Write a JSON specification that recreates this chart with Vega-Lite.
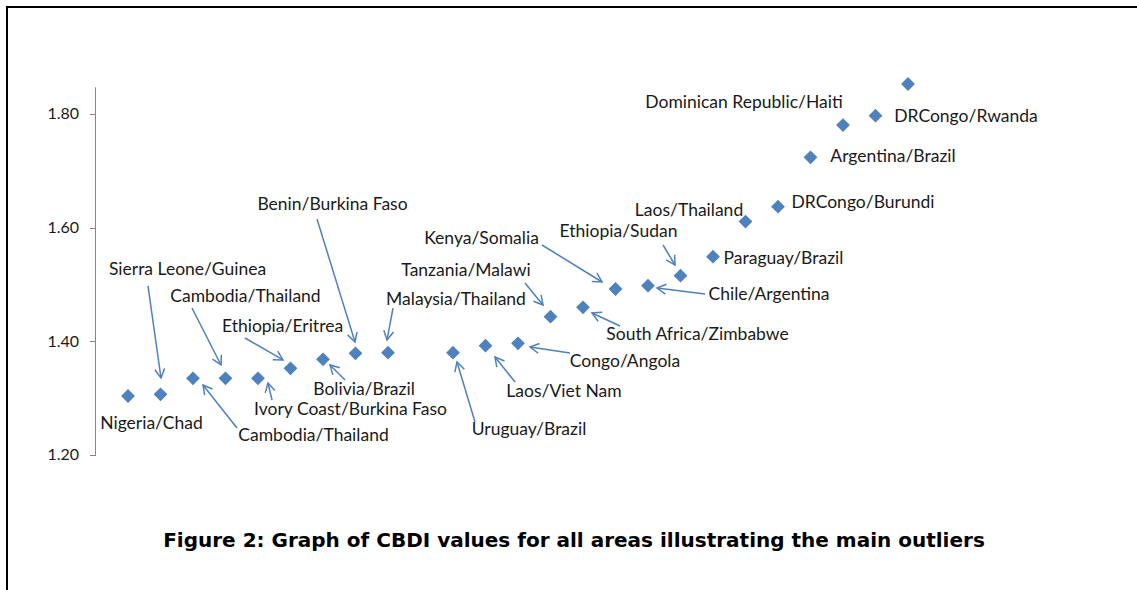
{
  "$schema": "https://vega.github.io/schema/vega-lite/v6.json",
  "width": 1134,
  "height": 586,
  "autosize": {"type": "none"},
  "padding": {"left": 7, "top": 7, "right": -4, "bottom": -3},
  "background": "white",
  "config": {"view": {"stroke": "#000000", "strokeWidth": 2}, "font": "Lato"},
  "title": {
    "text": "Figure 2: Graph of CBDI values for all areas illustrating the main outliers",
    "orient": "bottom",
    "anchor": "middle",
    "frame": "group",
    "offset": -62,
    "font": "DejaVu Sans",
    "fontSize": 20,
    "fontWeight": "bold",
    "color": "#000000"
  },
  "datasets": {
    "axisline": [{"x0": 0, "ylo": 1.2, "yhi": 1.847}],
    "points": [
      {"idx": 1, "cbdi": 1.3038},
      {"idx": 2, "cbdi": 1.3068},
      {"idx": 3, "cbdi": 1.3350},
      {"idx": 4, "cbdi": 1.3350},
      {"idx": 5, "cbdi": 1.3350},
      {"idx": 6, "cbdi": 1.3525},
      {"idx": 7, "cbdi": 1.3684},
      {"idx": 8, "cbdi": 1.3789},
      {"idx": 9, "cbdi": 1.3800},
      {"idx": 11, "cbdi": 1.3800},
      {"idx": 12, "cbdi": 1.3923},
      {"idx": 13, "cbdi": 1.3965},
      {"idx": 14, "cbdi": 1.4433},
      {"idx": 15, "cbdi": 1.4599},
      {"idx": 16, "cbdi": 1.4921},
      {"idx": 17, "cbdi": 1.4979},
      {"idx": 18, "cbdi": 1.5155},
      {"idx": 19, "cbdi": 1.5489},
      {"idx": 20, "cbdi": 1.6108},
      {"idx": 21, "cbdi": 1.6369},
      {"idx": 22, "cbdi": 1.7238},
      {"idx": 23, "cbdi": 1.7806},
      {"idx": 24, "cbdi": 1.7970},
      {"idx": 25, "cbdi": 1.8528}
    ],
    "labels": [
      {"label": "Nigeria/Chad", "lx": 1.723, "ly": 1.2545},
      {"label": "Sierra Leone/Guinea", "lx": 2.831, "ly": 1.5255},
      {"label": "Cambodia/Thailand", "lx": 4.615, "ly": 1.4780},
      {"label": "Ethiopia/Eritrea", "lx": 5.754, "ly": 1.4252},
      {"label": "Benin/Burkina Faso", "lx": 7.292, "ly": 1.6399},
      {"label": "Bolivia/Brazil", "lx": 8.262, "ly": 1.3144},
      {"label": "Ivory Coast/Burkina Faso", "lx": 7.846, "ly": 1.2792},
      {"label": "Cambodia/Thailand", "lx": 6.708, "ly": 1.2334},
      {"label": "Tanzania/Malawi", "lx": 11.400, "ly": 1.5238},
      {"label": "Malaysia/Thailand", "lx": 11.092, "ly": 1.4727},
      {"label": "Kenya/Somalia", "lx": 11.877, "ly": 1.5801},
      {"label": "Ethiopia/Sudan", "lx": 16.092, "ly": 1.5924},
      {"label": "Laos/Thailand", "lx": 18.262, "ly": 1.6293},
      {"label": "Paraguay/Brazil", "lx": 21.169, "ly": 1.5449},
      {"label": "Chile/Argentina", "lx": 20.723, "ly": 1.4815},
      {"label": "South Africa/Zimbabwe", "lx": 18.523, "ly": 1.4111},
      {"label": "Congo/Angola", "lx": 16.292, "ly": 1.3636},
      {"label": "Laos/Viet Nam", "lx": 14.415, "ly": 1.3108},
      {"label": "Uruguay/Brazil", "lx": 13.338, "ly": 1.2440},
      {"label": "Dominican Republic/Haiti", "lx": 19.954, "ly": 1.8194},
      {"label": "DRCongo/Rwanda", "lx": 26.785, "ly": 1.7947},
      {"label": "Argentina/Brazil", "lx": 24.538, "ly": 1.7243},
      {"label": "DRCongo/Burundi", "lx": 23.615, "ly": 1.6434}
    ],
    "arrows": [
      {"x1": 1.615, "y1": 1.4974, "x2": 2.015, "y2": 1.3355},
      {"x1": 2.969, "y1": 1.4586, "x2": 3.862, "y2": 1.3584},
      {"x1": 4.600, "y1": 1.4059, "x2": 5.769, "y2": 1.3672},
      {"x1": 6.815, "y1": 1.6152, "x2": 7.985, "y2": 1.3988},
      {"x1": 9.154, "y1": 1.4586, "x2": 8.969, "y2": 1.4023},
      {"x1": 13.215, "y1": 1.5026, "x2": 13.769, "y2": 1.4639},
      {"x1": 13.738, "y1": 1.5695, "x2": 15.585, "y2": 1.5044},
      {"x1": 17.462, "y1": 1.5695, "x2": 17.831, "y2": 1.5343},
      {"x1": 18.754, "y1": 1.4833, "x2": 17.277, "y2": 1.4938},
      {"x1": 16.138, "y1": 1.4270, "x2": 15.277, "y2": 1.4499},
      {"x1": 14.600, "y1": 1.3795, "x2": 13.369, "y2": 1.3900},
      {"x1": 12.908, "y1": 1.3284, "x2": 12.292, "y2": 1.3724},
      {"x1": 11.677, "y1": 1.2581, "x2": 11.123, "y2": 1.3636},
      {"x1": 7.677, "y1": 1.3320, "x2": 7.215, "y2": 1.3584},
      {"x1": 5.431, "y1": 1.2968, "x2": 5.308, "y2": 1.3267},
      {"x1": 4.354, "y1": 1.2475, "x2": 3.308, "y2": 1.3232}
    ]
  },
  "layer": [
    {
      "data": {"name": "axisline"},
      "mark": {"type": "rule", "color": "#868686", "strokeWidth": 1},
      "encoding": {
        "x": {"field": "x0", "type": "quantitative", "scale": {"domain": [-2.7231, 32.169], "nice": false, "zero": false}, "axis": null},
        "y": {
          "field": "ylo",
          "type": "quantitative",
          "scale": {"domain": [0.95718, 1.98827], "nice": false, "zero": false},
          "axis": {
            "values": [1.2, 1.4, 1.6, 1.8],
            "format": ".2f",
            "domain": false,
            "ticks": true,
            "tickSize": 6,
            "tickColor": "#868686",
            "labelFont": "Lato",
            "labelFontSize": 16,
            "labelColor": "#1a1a1a",
            "labelPadding": 11,
            "offset": -88.5,
            "grid": false,
            "title": null
          }
        },
        "y2": {"field": "yhi"}
      }
    },
    {
      "data": {"name": "arrows"},
      "mark": {"type": "rule", "color": "#4F81BD", "strokeWidth": 1.5},
      "encoding": {
        "x": {"field": "x1", "type": "quantitative"},
        "y": {"field": "y1", "type": "quantitative"},
        "x2": {"field": "x2"},
        "y2": {"field": "y2"}
      }
    },
    {
      "data": {"name": "arrows"},
      "transform": [
        {"calculate": "atan2(-(datum.y2 - datum.y1) * 568.33, (datum.x2 - datum.x1) * 32.5) * 180 / PI", "as": "ang"}
      ],
      "mark": {"type": "point", "shape": "M-1,-0.55L0,0L-1,0.55", "filled": false, "stroke": "#4F81BD", "strokeWidth": 1.5, "size": 324, "opacity": 1},
      "encoding": {
        "x": {"field": "x2", "type": "quantitative"},
        "y": {"field": "y2", "type": "quantitative"},
        "angle": {"field": "ang", "type": "quantitative", "scale": null}
      }
    },
    {
      "data": {"name": "points"},
      "mark": {"type": "point", "shape": "diamond", "filled": true, "color": "#4F81BD", "size": 190, "opacity": 1, "strokeWidth": 0},
      "encoding": {
        "x": {"field": "idx", "type": "quantitative"},
        "y": {"field": "cbdi", "type": "quantitative"}
      }
    },
    {
      "data": {"name": "labels"},
      "mark": {"type": "text", "align": "center", "baseline": "middle", "font": "Lato", "fontSize": 17.5, "color": "#1a1a1a"},
      "encoding": {
        "x": {"field": "lx", "type": "quantitative"},
        "y": {"field": "ly", "type": "quantitative"},
        "text": {"field": "label"}
      }
    }
  ]
}
